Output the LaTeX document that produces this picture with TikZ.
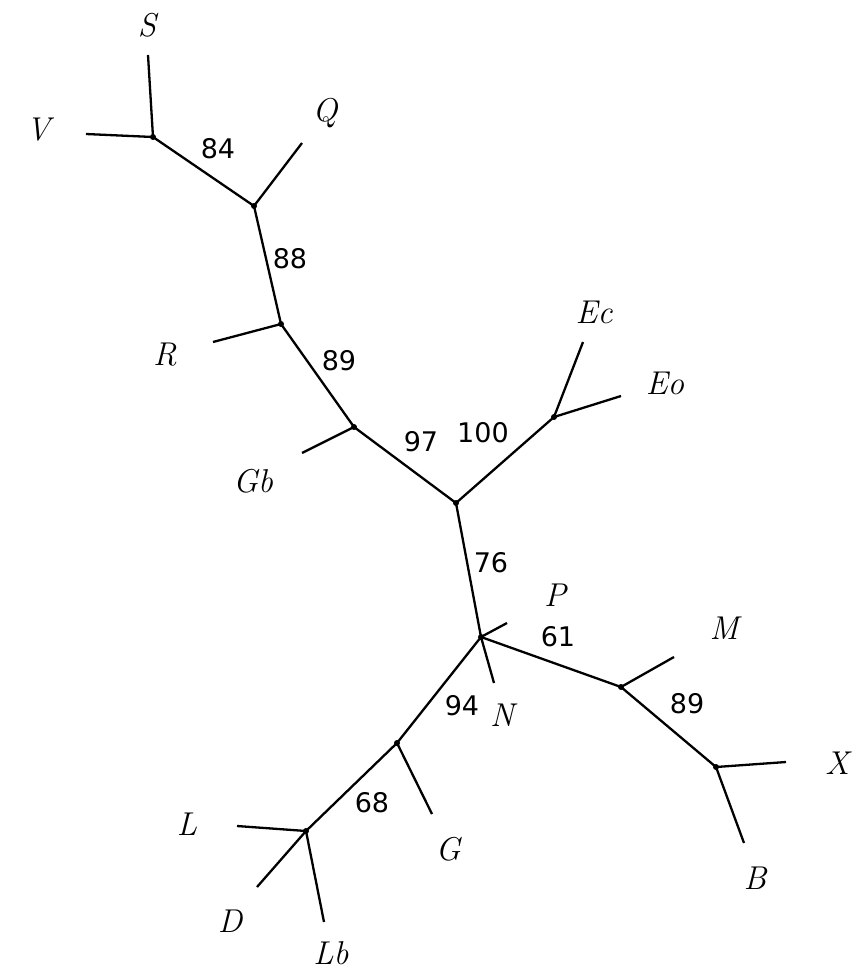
\documentclass[tikz,border=0pt]{standalone}
\usepackage{fontspec}
\newfontfamily\numfont{DejaVu Sans}
\begin{document}
\begin{tikzpicture}[x=1pt,y=-1pt,
  branch/.style={line width=2.3pt},
  taxon/.style={font=\fontsize{33}{36}\selectfont\itshape, inner sep=0pt},
  support/.style={font=\numfont\fontsize{27}{30}\selectfont, inner sep=0pt},
  junction/.style={fill=black}]
\useasboundingbox (0,0) rectangle (852,972);
% internal nodes
\coordinate (a) at (153,137);
\coordinate (b) at (254,206);
\coordinate (c) at (281,324);
\coordinate (d) at (354,427);
\coordinate (e) at (456,503);
\coordinate (f) at (554,417);
\coordinate (g) at (481,637);
\coordinate (h) at (621,687);
\coordinate (i) at (716,767);
\coordinate (j) at (397,743);
\coordinate (k) at (306,831);
% leaf ends
\coordinate (sE) at (148,55);
\coordinate (vE) at (86,134);
\coordinate (qE) at (302,143);
\coordinate (rE) at (213,342);
\coordinate (gbE) at (302,453);
\coordinate (ecE) at (583,342);
\coordinate (eoE) at (621,396);
\coordinate (pE) at (507,623);
\coordinate (nE) at (494,683);
\coordinate (mE) at (674,657);
\coordinate (xE) at (786,762);
\coordinate (bE) at (744,843);
\coordinate (gE) at (432,814);
\coordinate (lE) at (237,826);
\coordinate (dE) at (257,887);
\coordinate (lbE) at (324,922);
% branches
\draw[branch] (sE) -- (a);
\draw[branch] (vE) -- (a);
\draw[branch] (a) -- (b);
\draw[branch] (qE) -- (b);
\draw[branch] (b) -- (c);
\draw[branch] (rE) -- (c);
\draw[branch] (c) -- (d);
\draw[branch] (gbE) -- (d);
\draw[branch] (d) -- (e);
\draw[branch] (e) -- (f);
\draw[branch] (f) -- (ecE);
\draw[branch] (f) -- (eoE);
\draw[branch] (e) -- (g);
\draw[branch] (g) -- (pE);
\draw[branch] (g) -- (nE);
\draw[branch] (g) -- (h);
\draw[branch] (h) -- (mE);
\draw[branch] (h) -- (i);
\draw[branch] (i) -- (xE);
\draw[branch] (i) -- (bE);
\draw[branch] (g) -- (j);
\draw[branch] (j) -- (gE);
\draw[branch] (j) -- (k);
\draw[branch] (k) -- (lE);
\draw[branch] (k) -- (dE);
\draw[branch] (k) -- (lbE);
% junction dots
\foreach \p in {a,b,c,d,e,f,g,h,i,j,k} \fill[junction] (\p) circle (3pt);
% taxon labels
\node[taxon] (S) at (147,25) {S};
\node[taxon] (V) at (38,130) {V};
\node[taxon] (Q) at (325,113) {Q};
\node[taxon] (R) at (165,355) {R};
\node[taxon] (Gb) at (253,481) {Gb};
\node[taxon] (Ec) at (594,312) {Ec};
\node[taxon] (Eo) at (665,383) {Eo};
\node[taxon] (P) at (555,595) {P};
\node[taxon] (N) at (502,715) {N};
\node[taxon] (M) at (724,628) {M};
\node[taxon] (X) at (837,763) {X};
\node[taxon] (B) at (755,878) {B};
\node[taxon] (G) at (448,849) {G};
\node[taxon] (L) at (187,824) {L};
\node[taxon] (D) at (230,921) {D};
\node[taxon] (Lb) at (331,953) {Lb};
% support values
\node[support] (s84) at (218,149) {84};
\node[support] (s88) at (290,259) {88};
\node[support] (s89a) at (339,361) {89};
\node[support] (s97) at (421,442) {97};
\node[support] (s100) at (483,433) {100};
\node[support] (s76) at (491,563) {76};
\node[support] (s61) at (558,637) {61};
\node[support] (s94) at (462,706) {94};
\node[support] (s89b) at (687,704) {89};
\node[support] (s68) at (372,803) {68};
\end{tikzpicture}
\end{document}
